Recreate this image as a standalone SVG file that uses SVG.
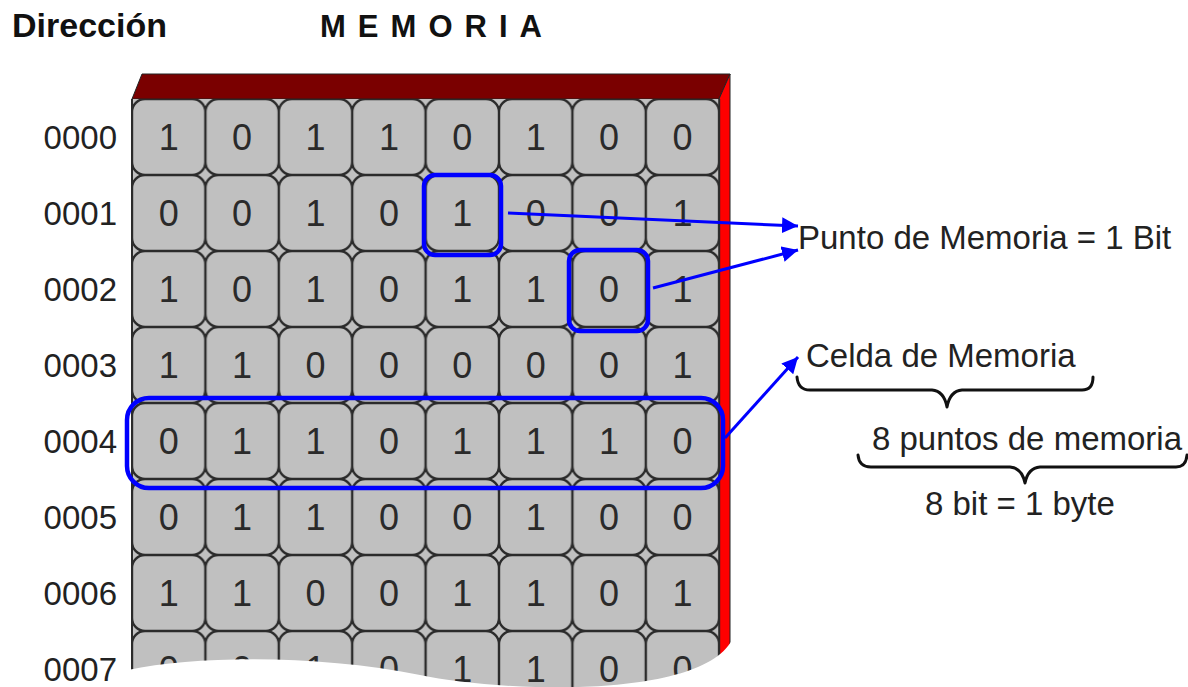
<svg xmlns="http://www.w3.org/2000/svg" width="1188" height="687" viewBox="0 0 1188 687">
<style>
text{font-family:"Liberation Sans",Arial,sans-serif;fill:#222}
.hd{font-weight:bold;fill:#111}
.lbl{font-size:33px;text-anchor:end}
.dg{font-size:36px;text-anchor:middle;fill:#2a2a2a}
.ann{font-size:33px}
.blue{fill:none;stroke:#0000ff;stroke-width:4.5}
.arr{fill:none;stroke:#0000ff;stroke-width:3;marker-end:url(#ah)}
.brace{fill:none;stroke:#111;stroke-width:3;stroke-linejoin:round;stroke-linecap:round}
</style>
<defs>
<pattern id="cellp" patternUnits="userSpaceOnUse" x="132" y="99" width="73.4" height="76">
<rect x="0" y="0" width="73.4" height="76" fill="#c0c0c0"/>
<rect x="0" y="0" width="73.4" height="76" rx="13" ry="13" fill="none" stroke="#2b2b2b" stroke-width="2.4"/>
</pattern>
<marker id="ah" markerUnits="userSpaceOnUse" markerWidth="17" markerHeight="17" refX="16" refY="8" orient="auto">
<path d="M0,0 L16,8 L0,16 Z" fill="#0000ff"/>
</marker>
</defs>
<rect width="1188" height="687" fill="#fff"/>

<g id="headers">
<text class="hd" x="12" y="37" font-size="34">Dirección</text>
<text class="hd" x="320" y="37" font-size="31" textLength="222" lengthAdjust="spacing">MEMORIA</text>
</g>

<g id="memory">
<polygon points="142,74 730,74 719,99 132,99" fill="#7a0000" stroke="#222" stroke-width="1"/>
<polygon points="719,99 730,74 730,690 719,690" fill="#ff0000" stroke="#222" stroke-width="1"/>
<rect x="132" y="99" width="587.2" height="600" fill="url(#cellp)"/>
<line x1="132" y1="99" x2="132" y2="690" stroke="#2b2b2b" stroke-width="2"/>
<line x1="719.2" y1="99" x2="719.2" y2="690" stroke="#2b2b2b" stroke-width="2"/>
<g id="bits">
<text class="dg" x="168.7 242.1 315.5 388.9 462.3 535.7 609.1 682.5" y="150">10110100</text>
<text class="dg" x="168.7 242.1 315.5 388.9 462.3 535.7 609.1 682.5" y="226">00101001</text>
<text class="dg" x="168.7 242.1 315.5 388.9 462.3 535.7 609.1 682.5" y="302">10101101</text>
<text class="dg" x="168.7 242.1 315.5 388.9 462.3 535.7 609.1 682.5" y="378">11000001</text>
<text class="dg" x="168.7 242.1 315.5 388.9 462.3 535.7 609.1 682.5" y="454">01101110</text>
<text class="dg" x="168.7 242.1 315.5 388.9 462.3 535.7 609.1 682.5" y="530">01100100</text>
<text class="dg" x="168.7 242.1 315.5 388.9 462.3 535.7 609.1 682.5" y="606">11001101</text>
<text class="dg" x="168.7 242.1 315.5 388.9 462.3 535.7 609.1 682.5" y="682">00101100</text>
</g>
<path d="M128,670 C200,655 320,655 420,675 C500,692 700,700 732,640 L745,630 L745,690 L128,690 Z" fill="#fff"/>
</g>

<g id="addresses">
<text class="lbl" x="117" y="149">0000</text>
<text class="lbl" x="117" y="225">0001</text>
<text class="lbl" x="117" y="301">0002</text>
<text class="lbl" x="117" y="377">0003</text>
<text class="lbl" x="117" y="453">0004</text>
<text class="lbl" x="117" y="529">0005</text>
<text class="lbl" x="117" y="605">0006</text>
<text class="lbl" x="117" y="681">0007</text>
</g>

<g id="highlights">
<rect id="bit-a" class="blue" x="424" y="175" width="77" height="80" rx="11"/>
<rect id="bit-b" class="blue" x="569" y="250" width="79" height="81" rx="11"/>
<rect id="cell-row" class="blue" x="127" y="398" width="596" height="90" rx="22"/>
</g>

<g id="connectors">
<path class="arr" d="M508,213 L798,226"/>
<path class="arr" d="M653,288 L798,250"/>
<path class="arr" d="M725,438 L798,357"/>
</g>

<g id="punto">
<text class="ann" x="798" y="249">Punto de Memoria = 1 Bit</text>
</g>
<g id="celda">
<text class="ann" x="806" y="367">Celda de Memoria</text>
<path class="brace" d="M797,377 Q798,390 810,390 L932,390 Q944,391 947,407 Q950,391 962,390 L1082,390 Q1093,390 1093,377"/>
</g>
<g id="puntos">
<text class="ann" x="872" y="450">8 puntos de memoria</text>
<path class="brace" d="M858,455 Q859,467 871,467 L1010,467 Q1022,468 1025,483 Q1028,468 1040,467 L1176,467 Q1186,467 1187,455"/>
</g>
<g id="byte">
<text class="ann" x="925" y="515">8 bit = 1 byte</text>
</g>
</svg>
